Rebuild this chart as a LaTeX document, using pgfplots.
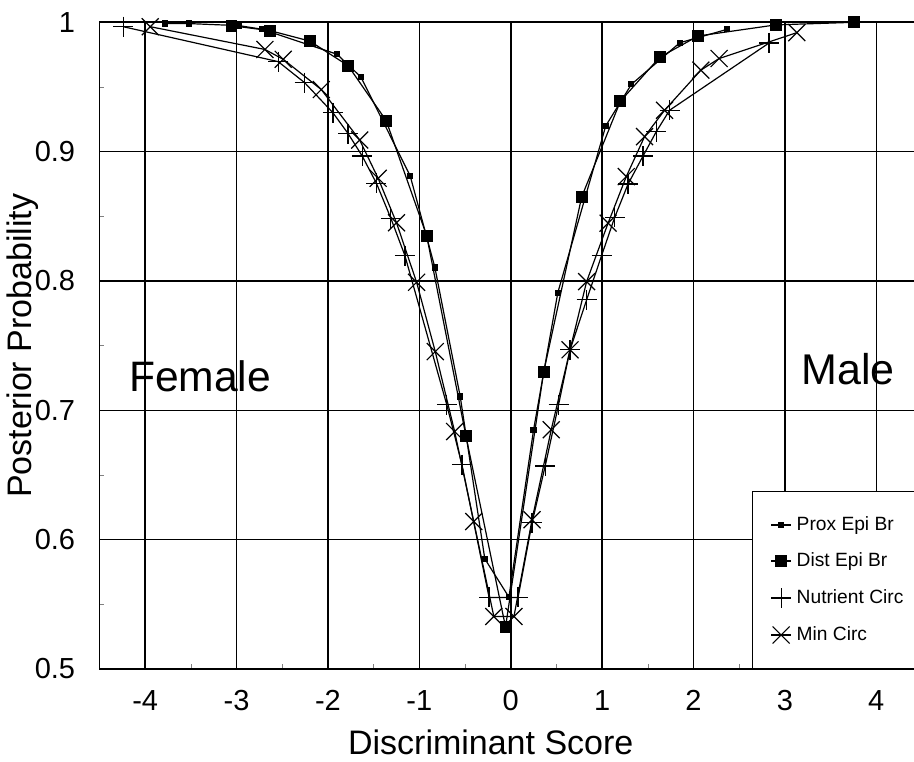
\documentclass[border=0pt]{standalone}
\usepackage{fontspec}
\setmainfont{Liberation Sans}
\usepackage{pgfplots}
\pgfplotsset{compat=1.18}

\begin{document}
\begin{tikzpicture}
\begin{axis}[
    scale only axis,
    width=411.25pt, height=323.35pt,
    xmin=-4.5, xmax=4.5,
    ymin=0.5, ymax=1,
    xtick={-4,-3,...,4},
    ytick={0.5,0.6,...,1.0},
    minor x tick num=1,
    minor y tick num=1,
    tick pos=left,
    major tick length=0pt,
    minor tick length=2.5pt,
    grid=major,
    grid style={black, line width=0.75pt},
    axis line style={line width=0.9pt},
    /pgf/number format/assume math mode=true,
    yticklabel style={/pgf/number format/fixed, inner sep=0pt, font=\fontsize{14.5}{16}\selectfont},
    xticklabel style={inner sep=0pt, font=\fontsize{14.5}{16}\selectfont},
    yticklabel shift=12pt,
    xticklabel shift=10.5pt,
    xlabel={Discriminant Score},
    ylabel={Posterior Probability},
    every axis x label/.style={at={(axis description cs:0.5,0)}, anchor=center,
        yshift=-36.5pt, xshift=-10pt, font=\fontsize{17}{19}\selectfont},
    every axis y label/.style={at={(axis description cs:0,0.5)}, xshift=-38.5pt,
        anchor=center, rotate=90, font=\fontsize{17}{19}\selectfont},
    legend cell align=left,
    legend style={at={(rel axis cs:1,0)}, anchor=south east, draw=black,
        line width=0.6pt, fill=white, font=\fontsize{9.6}{11}\selectfont,
        inner xsep=9pt, inner ysep=12.2pt, row sep=9pt, column sep=2.5pt,
        nodes={inner sep=0pt, text height=7pt, text depth=2pt}},
    legend image code/.code={
        \draw[mark repeat=2, mark phase=2] plot coordinates {(0pt,0pt) (5pt,0pt) (10pt,0pt)};
    },
    every axis plot/.append style={black, line width=0.6pt, mark options={solid, fill=black}},
]
% Prox Epi Br
\addplot[mark=square*, mark size=1.25pt] coordinates {
    (-3.78,0.999) (-3.52,0.999) (-2.97,0.9974) (-2.72,0.9946) (-1.90,0.9753)
    (-1.64,0.9577) (-1.10,0.8812) (-0.83,0.8104) (-0.553,0.7107) (-0.284,0.5852)
    (-0.02,0.5556) (0.25,0.685) (0.515,0.791) (1.04,0.920) (1.32,0.952)
    (1.85,0.9842) (2.37,0.9946)
};
\addlegendentry{Prox Epi Br}
% Dist Epi Br
\addplot[mark=square*, mark size=2.67pt] coordinates {
    (-3.056,0.9974) (-2.63,0.9935) (-2.20,0.9855) (-1.78,0.9665) (-1.363,0.924)
    (-0.92,0.835) (-0.49,0.680) (-0.057,0.5325) (0.36,0.7295) (0.776,0.865)
    (1.2,0.939) (1.63,0.973) (2.05,0.9894) (2.9,0.998) (3.76,1.0)
};
\addlegendentry{Dist Epi Br}
% Nutrient Circ
\addplot[mark=+, mark size=5pt] coordinates {
    (-4.24,0.9966) (-2.545,0.9696) (-2.255,0.9533) (-1.945,0.930) (-1.78,0.914)
    (-1.626,0.8967) (-1.47,0.8756) (-1.312,0.8485) (-1.158,0.8196) (-0.70,0.7043)
    (-0.534,0.658) (-0.237,0.5553) (0.08,0.5553) (0.233,0.613) (0.377,0.657)
    (0.523,0.7043) (0.649,0.7468) (0.83,0.7854) (0.993,0.8194) (1.138,0.8493)
    (1.284,0.875) (1.448,0.8967) (1.593,0.9155) (1.738,0.932) (2.826,0.984)
};
\addlegendentry{Nutrient Circ}
% Min Circ
\addplot[mark=x, mark size=6pt] coordinates {
    (-3.945,0.9966) (-2.69,0.979) (-2.49,0.9714) (-2.073,0.948) (-1.653,0.909)
    (-1.451,0.8794) (-1.25,0.845) (-1.03,0.799) (-0.826,0.7454) (-0.614,0.6836)
    (-0.405,0.614) (-0.185,0.5406) (0.035,0.5406) (0.233,0.6154) (0.443,0.685)
    (0.649,0.7468) (0.83,0.7995) (1.065,0.8447) (1.264,0.8807) (1.464,0.9116)
    (1.683,0.932) (2.08,0.963) (2.28,0.972) (3.13,0.992)
};
\addlegendentry{Min Circ}

\node[anchor=base, font=\fontsize{21.3}{24}\selectfont] at (axis cs:-3.4,0.7145) {Female};
\node[anchor=base, font=\fontsize{21.5}{24}\selectfont] at (axis cs:3.69,0.7197) {Male};
\end{axis}
\pgfresetboundingbox
\path[use as bounding box] ([xshift=-49.75pt,yshift=-46pt]current axis.south west)
    rectangle ([xshift=-4pt,yshift=11.15pt]current axis.north east);
\end{tikzpicture}
\end{document}
